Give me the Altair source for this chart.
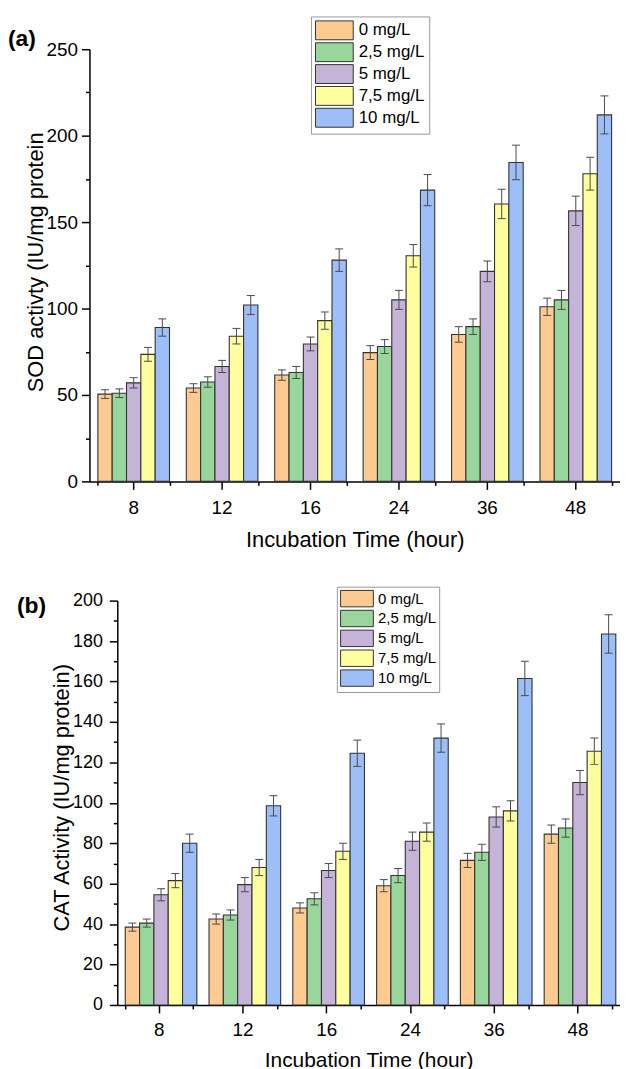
import altair as alt
import pandas as pd

hours = ["8", "12", "16", "24", "36", "48"]
concs = ["0 mg/L", "2,5 mg/L", "5 mg/L", "7,5 mg/L", "10 mg/L"]
colors = ["#FDCB91", "#99D69B", "#C6B3D8", "#FFFFA0", "#9DBEF6"]

# (a) SOD activity, one list per concentration (values over hours)
sod_0 = [50.5, 54.0, 61.5, 74.5, 85.0, 101.0]
sod_25 = [51.0, 57.5, 63.0, 78.0, 89.5, 105.0]
sod_5 = [57.0, 66.5, 79.5, 105.0, 121.5, 156.5]
sod_75 = [73.5, 84.0, 93.0, 130.5, 160.5, 178.0]
sod_10 = [89.0, 102.0, 128.0, 168.5, 184.5, 212.0]
sod_err_0 = [2.5, 2.5, 3.0, 4.0, 4.5, 5.0]
sod_err_25 = [2.5, 3.0, 3.5, 4.0, 4.5, 5.5]
sod_err_5 = [3.0, 3.5, 4.0, 5.5, 6.0, 8.5]
sod_err_75 = [4.0, 4.5, 5.0, 6.5, 8.5, 9.5]
sod_err_10 = [5.0, 5.5, 6.5, 9.0, 10.0, 11.0]

# (b) CAT activity
cat_0 = [38.5, 42.5, 48.0, 59.0, 71.5, 84.5]
cat_25 = [40.5, 44.5, 52.5, 64.0, 75.5, 87.5]
cat_5 = [54.5, 59.5, 66.5, 81.0, 93.0, 110.0]
cat_75 = [61.5, 68.0, 76.0, 85.5, 96.0, 125.5]
cat_10 = [80.0, 98.5, 124.5, 132.0, 161.5, 183.5]
cat_err_0 = [2.0, 2.5, 2.5, 3.0, 3.5, 4.5]
cat_err_25 = [2.0, 2.5, 3.0, 3.5, 4.0, 4.5]
cat_err_5 = [3.0, 3.5, 3.5, 4.5, 5.0, 6.0]
cat_err_75 = [3.5, 4.0, 4.0, 4.5, 5.0, 6.5]
cat_err_10 = [4.5, 5.0, 6.5, 7.0, 8.5, 9.5]

sod_y_major = [0, 50, 100, 150, 200, 250]
sod_y_minor = [25, 75, 125, 175, 225]
cat_y_major = [0, 20, 40, 60, 80, 100, 120, 140, 160, 180, 200]
cat_y_minor = [10, 30, 50, 70, 90, 110, 130, 150, 170, 190]

FONT = "Liberation Sans"
SWATCH = "M-1,-1L3,-1L3,1L-1,1Z"


def frame(series, errors):
    rows = []
    for c, vals, errs in zip(concs, series, errors):
        for h, v, e in zip(hours, vals, errs):
            rows.append({"hour": h, "conc": c, "value": v, "lo": v - e, "hi": v + e})
    return pd.DataFrame(rows)


def panel(df, ymax, ymajor, yminor, ytitle, tag, cfg):
    base = alt.Chart(df)
    xscale = alt.Scale(range=[cfg["x0"], cfg["w"]], paddingInner=0.19, paddingOuter=0.095)
    xoff = alt.XOffset("conc:N", sort=concs, scale=alt.Scale(paddingInner=0, paddingOuter=0))
    yscale = alt.Scale(domain=[0, ymax], nice=False, zero=True)

    bars = base.mark_bar(stroke="#333333", strokeWidth=1.1).encode(
        x=alt.X("hour:N", sort=hours, scale=xscale,
                axis=alt.Axis(orient="bottom", title="Incubation Time (hour)", labelAngle=0,
                              tickSize=8, labelPadding=cfg["xlabpad"], labelFontSize=cfg["xlabsize"],
                              titleFontSize=cfg["xtitlesize"], titlePadding=cfg["xtitlepad"])),
        xOffset=xoff,
        y=alt.Y("value:Q", scale=yscale,
                axis=alt.Axis(orient="left", values=ymajor, tickSize=8, labelFontSize=cfg["ylabsize"],
                              labelPadding=cfg["ylabpad"], title=ytitle, titleFontSize=22,
                              titleX=cfg["ytitlex"], titleY=cfg["ytitley"], titleBaseline="alphabetic",
                              titleAngle=270, offset=-cfg["x0"])),
        color=alt.Color("conc:N", sort=concs, scale=alt.Scale(domain=concs, range=colors),
                        legend=alt.Legend(orient="none", legendX=cfg["lx"], legendY=cfg["ly"], title=None,
                                          symbolType=SWATCH, symbolSize=cfg["symsize"],
                                          symbolStrokeColor="#333333", symbolStrokeWidth=1, symbolOpacity=1,
                                          labelFont=FONT, labelFontSize=cfg["legfont"], labelColor="black",
                                          labelOffset=cfg["laboff"], rowPadding=cfg["rowpad"],
                                          padding=cfg["legpad"], strokeColor="#999999", fillColor="white")),
    )

    rules = base.mark_rule(color="#4a4a4a", strokeWidth=1).encode(
        x=alt.X("hour:N", sort=hours, scale=xscale,
                axis=alt.Axis(orient="bottom", tickBand="extent", labels=False, title=None,
                              domain=False, tickSize=4)),
        xOffset=xoff,
        y=alt.Y("lo:Q", scale=yscale,
                axis=alt.Axis(orient="left", values=yminor, labels=False, title=None,
                              domain=False, tickSize=4, offset=-cfg["x0"])),
        y2="hi:Q",
    )
    cap_lo = base.mark_tick(orient="horizontal", size=8, thickness=1, color="#4a4a4a", opacity=1).encode(
        x=alt.X("hour:N", sort=hours, scale=xscale, axis=None),
        xOffset=xoff,
        y=alt.Y("lo:Q", scale=yscale, axis=None),
    )
    cap_hi = base.mark_tick(orient="horizontal", size=8, thickness=1, color="#4a4a4a", opacity=1).encode(
        x=alt.X("hour:N", sort=hours, scale=xscale, axis=None),
        xOffset=xoff,
        y=alt.Y("hi:Q", scale=yscale, axis=None),
    )
    label = alt.Chart(pd.DataFrame({"t": [tag]})).mark_text(
        align="left", baseline="alphabetic", font=FONT, fontSize=23, fontWeight="bold", color="black"
    ).encode(text="t:N", x=alt.value(cfg["tagx"]), y=alt.value(cfg["tagy"]))

    return alt.layer(bars, rules, cap_lo, cap_hi, label).resolve_axis(
        x="independent", y="independent"
    ).properties(width=cfg["w"], height=cfg["h"])


cfg_a = dict(x0=0, w=534, h=435, xlabpad=9, xtitlesize=22, xtitlepad=13, xlabsize=19, ylabsize=19,
             ylabpad=4, ytitlex=-47, ytitley=214, lx=223, ly=-33, symsize=361, laboff=24, legfont=17,
             rowpad=-4, legpad=4, tagx=-82, tagy=-3)
cfg_b = dict(x0=28, w=534, h=407, xlabpad=8, xtitlesize=21, xtitlepad=10, xlabsize=19, ylabsize=18,
             ylabpad=7, ytitlex=-49, ytitley=198, lx=249, ly=-14, symsize=272, laboff=20.5, legfont=15,
             rowpad=-3, legpad=3, tagx=-73, tagy=12)

top = panel(frame([sod_0, sod_25, sod_5, sod_75, sod_10],
                  [sod_err_0, sod_err_25, sod_err_5, sod_err_75, sod_err_10]),
            250, sod_y_major, sod_y_minor, "SOD activty (IU/mg protein", "(a)", cfg_a)
bottom = panel(frame([cat_0, cat_25, cat_5, cat_75, cat_10],
                     [cat_err_0, cat_err_25, cat_err_5, cat_err_75, cat_err_10]),
               200, cat_y_major, cat_y_minor, "CAT Activity (IU/mg protein)", "(b)", cfg_b)

chart = alt.vconcat(top, bottom, spacing=35).resolve_scale(
    color="independent"
).resolve_legend(color="independent").properties(
    padding={"left": 0, "top": 4, "right": 0, "bottom": 0}
).configure_view(stroke=None).configure_axis(
    domainColor="black", tickColor="black", domainWidth=1.5, tickWidth=1.5,
    labelColor="black", titleColor="black", labelFont=FONT, titleFont=FONT,
    titleFontWeight="normal", grid=False
)

chart.save("out.html", embed_options={"renderer": "svg", "actions": False})
